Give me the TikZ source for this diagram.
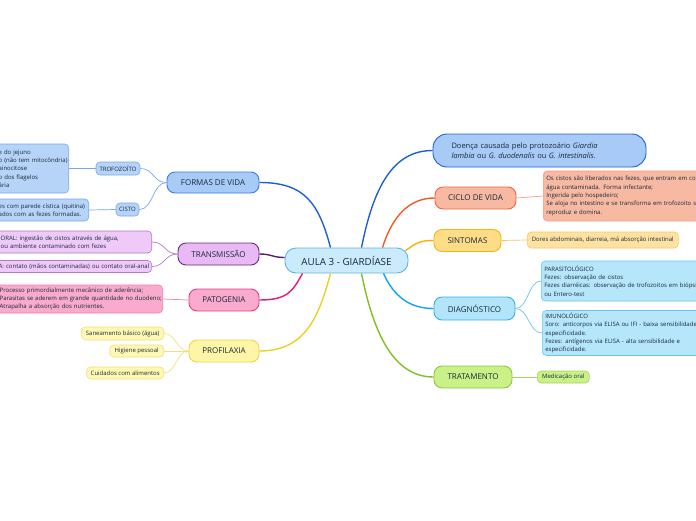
\documentclass[tikz,border=0pt]{standalone}
\usepackage{fontspec}
\setmainfont{Open Sans}
\usetikzlibrary{calc}

\definecolor{ink}{HTML}{172A3A}
\definecolor{cfill}{HTML}{C9EBFB}
\definecolor{cline}{HTML}{5FB3E3}
\definecolor{bfill}{HTML}{A8CAF6}
\definecolor{bline}{HTML}{3A7EE0}
\definecolor{bbranch}{HTML}{1E5FD6}
\definecolor{bleaf}{HTML}{B6D3F8}
\definecolor{btwig}{HTML}{78A6EC}
\definecolor{tfill}{HTML}{E8B9F5}
\definecolor{tline}{HTML}{6B2A7E}
\definecolor{tbranch}{HTML}{5B1F6B}
\definecolor{tleaf}{HTML}{EFC9F8}
\definecolor{ttwig}{HTML}{B07CC4}
\definecolor{pfill}{HTML}{F9AACD}
\definecolor{pline}{HTML}{E63C84}
\definecolor{pbranch}{HTML}{EA1672}
\definecolor{ptwig}{HTML}{EE7FAE}
\definecolor{yfill}{HTML}{FFF5A6}
\definecolor{yline}{HTML}{EAD64C}
\definecolor{ybranch}{HTML}{E4D325}
\definecolor{yleaf}{HTML}{FFF8B3}
\definecolor{ytwig}{HTML}{EFE07A}
\definecolor{ofill}{HTML}{F8B9A2}
\definecolor{oline}{HTML}{F0643F}
\definecolor{obranch}{HTML}{F25A23}
\definecolor{otwig}{HTML}{F59A7E}
\definecolor{sfill}{HTML}{FFDC87}
\definecolor{sline}{HTML}{F5B50D}
\definecolor{sbranch}{HTML}{F7B300}
\definecolor{sleaf}{HTML}{FFE2A2}
\definecolor{stwig}{HTML}{F6C65E}
\definecolor{dfill}{HTML}{B3E5FA}
\definecolor{dline}{HTML}{33AEEA}
\definecolor{dbranch}{HTML}{14A3EC}
\definecolor{dleaf}{HTML}{B6E6FA}
\definecolor{dtwig}{HTML}{67C5F2}
\definecolor{gfill}{HTML}{CAF187}
\definecolor{gline}{HTML}{8DC63F}
\definecolor{gbranch}{HTML}{80BF25}
\definecolor{gtwig}{HTML}{A6D463}

\tikzset{
  topic/.style={draw, rounded corners=8pt, line width=0.9pt, inner sep=0pt, minimum height=22pt, text=ink, font=\fontsize{8}{9}\selectfont},
  leaf/.style={draw, rounded corners=4pt, line width=0.6pt, inner xsep=3pt, inner ysep=2pt, text=ink, align=left, font=\fontsize{6}{8.3}\selectfont},
  cutleaf/.style={leaf, anchor=east, inner xsep=2pt},
  tag/.style={leaf, align=center, minimum height=13pt, inner ysep=0pt},
  branch/.style={line width=1.4pt},
  twig/.style={line width=0.7pt}
}
\newcommand{\cutl}[1]{\hspace*{30pt}\mbox{#1}}

\begin{document}
\begin{tikzpicture}[x=1pt, y=-1pt]
\useasboundingbox (0,0) rectangle (696,520);

\node[topic, fill=cfill, draw=cline, minimum width=123pt, minimum height=25pt, rounded corners=11pt, font=\fontsize{9.8}{11}\selectfont] (aula) at (346.5,260.5) {AULA 3 - GIARDÍASE};

\node[topic, fill=bfill, draw=bline, minimum width=92pt, minimum height=21pt] (formas) at (213,182.5) {FORMAS DE VIDA};
\node[topic, fill=tfill, draw=tline, minimum width=81pt] (transm) at (218.5,254) {TRANSMISSÃO};
\node[topic, fill=pfill, draw=pline, minimum width=70pt] (patog) at (224,300) {PATOGENIA};
\node[topic, fill=yfill, draw=yline, minimum width=70pt] (profil) at (224,351) {PROFILAXIA};

\node[topic, fill=bfill, draw=bbranch, minimum width=213pt, minimum height=33pt, rounded corners=14pt, text width=176pt, inner xsep=18.5pt, align=left, font=\fontsize{7.5}{10.5}\selectfont] (doenca) at (539.5,150.5) {Doença causada pelo protozoário \textit{Giardia}\\\textit{lambia} ou \textit{G. duodenalis} ou \textit{G. intestinalis}.};
\node[topic, fill=ofill, draw=oline, minimum width=81pt] (ciclo) at (475.5,198) {CICLO DE VIDA};
\node[topic, fill=sfill, draw=sline, minimum width=67pt] (sintomas) at (467.5,240.5) {SINTOMAS};
\node[topic, fill=dfill, draw=dline, minimum width=81pt, minimum height=23pt] (diagn) at (474.5,308.5) {DIAGNÓSTICO};
\node[topic, fill=gfill, draw=gline, minimum width=78pt] (tratam) at (473,377) {TRATAMENTO};

\node[tag, fill=bleaf, draw=btwig, minimum width=44pt] (trofo) at (118,168.5) {TROFOZOÍTO};
\node[tag, fill=bleaf, draw=btwig, minimum width=23pt] (cisto) at (127.5,209.5) {CISTO};
\node[cutleaf, fill=bleaf, draw=btwig, text width=98pt, minimum height=49pt] (trofotxt) at (69,168.5) {\cutl{e do jejuno}\\\cutl{o (não tem mitocôndria)}\\\cutl{ainocitose}\\\cutl{o dos flagelos}\\\cutl{ária}};
\node[cutleaf, fill=bleaf, draw=btwig, text width=118pt, minimum height=22pt] (cistotxt) at (89,210) {\cutl{es com parede cística (quitina)}\\\cutl{ados com as fezes formadas.}};

\node[cutleaf, fill=tleaf, draw=ttwig, text width=181pt, minimum height=22pt] (oral) at (152,242) {\cutl{-ORAL: ingestão de cistos através de água,}\\\cutl{\ ou ambiente contaminado com fezes}};
\node[cutleaf, fill=tleaf, draw=ttwig, text width=181pt, minimum height=12pt, inner ysep=0pt] (contato) at (152,266.5) {\cutl{A:  contato (mãos contaminadas) ou contato oral-anal}};

\node[cutleaf, fill=pfill, draw=ptwig, text width=191pt, minimum height=28pt] (aderen) at (163,299) {\cutl{Processo primordialmente mecânico de aderência;}\\\cutl{Parasitas se aderem em grande quantidade no duodeno;}\\\cutl{Atrapalha a absorção dos nutrientes.}};

\node[tag, fill=yleaf, draw=ytwig, anchor=east, minimum width=82pt] (saneam) at (164,333.5) {Saneamento básico (água)};
\node[tag, fill=yleaf, draw=ytwig, anchor=east, minimum width=54pt, minimum height=12pt] (higiene) at (164,351) {Higiene pessoal};
\node[tag, fill=yleaf, draw=ytwig, anchor=east, minimum width=77pt, minimum height=12pt] (cuidad) at (164,373) {Cuidados com alimentos};

\node[leaf, fill=ofill, draw=otwig, anchor=west, text width=185pt, minimum height=50pt] (ciclotxt) at (543,196) {Os cistos são liberados nas fezes, que entram em contato\\água contaminada. Forma infectante;\\Ingerida pelo hospedeiro;\\Se aloja no intestino e se  transforma em trofozoito se\\reproduz e domina.};
\node[tag, fill=sleaf, draw=stwig, anchor=west, minimum width=151pt, minimum height=16pt] (dores) at (527,240) {Dores abdominais, diarreia, má absorção intestinal};
\node[leaf, fill=dleaf, draw=dtwig, anchor=west, text width=185pt, minimum height=40pt] (parasit) at (541,281) {PARASITOLÓGICO\\Fezes: observação de cistos\\Fezes diarréicas: observação de trofozoitos em biópsia\\ou Entero-test};
\node[leaf, fill=dleaf, draw=dtwig, anchor=west, text width=185pt, minimum height=45pt] (imuno) at (542,333) {IMUNOLÓGICO\\Soro:  anticorpos via ELISA ou IFI - baixa sensibilidade e\\especificidade.\\Fezes:  antígenos via ELISA - alta sensibilidade e\\especificidade.};
\node[tag, fill=gfill, draw=gtwig, anchor=west, minimum width=52pt, minimum height=12pt] (medic) at (537,377) {Medicação oral};

\draw[branch, bbranch] ([xshift=-16pt]aula.north) .. controls +(-12,-45) and +(45,0) .. (formas.east);
\draw[branch, tbranch] ([yshift=3pt]aula.west) .. controls +(-12,0) and +(12,0) .. (transm.east);
\draw[branch, pbranch] ([xshift=-44pt]aula.south) .. controls +(-10,18) and +(28,0) .. (patog.east);
\draw[branch, ybranch] ([xshift=-16pt]aula.south) .. controls +(-12,45) and +(45,0) .. (profil.east);
\draw[branch, bbranch] ([xshift=15pt]aula.north) .. controls +(12,-60) and +(-40,0) .. (doenca.west);
\draw[branch, obranch] ([xshift=36pt]aula.north) .. controls +(10,-32) and +(-25,0) .. (ciclo.west);
\draw[branch, sbranch] ([xshift=-3pt,yshift=-3pt]aula.north east) .. controls +(12,-8) and +(-14,0) .. (sintomas.west);
\draw[branch, dbranch] ([xshift=37pt]aula.south) .. controls +(10,22) and +(-25,0) .. (diagn.west);
\draw[branch, gbranch] ([xshift=15pt]aula.south) .. controls +(12,60) and +(-40,0) .. (tratam.west);

\draw[twig, btwig] (formas.west) .. controls +(-14,0) and +(14,0) .. (trofo.east);
\draw[twig, btwig] (formas.west) .. controls +(-14,0) and +(14,0) .. (cisto.east);
\draw[twig, btwig] (trofo.west) -- (trofotxt.east);
\draw[twig, btwig] (cisto.west) -- (cistotxt.east);
\draw[twig, ttwig] (transm.west) .. controls +(-13,0) and +(13,0) .. (oral.east);
\draw[twig, ttwig] (transm.west) .. controls +(-13,0) and +(13,0) .. (contato.east);
\draw[twig, ptwig] (patog.west) .. controls +(-12,0) and +(12,0) .. (aderen.east);
\draw[twig, ytwig] (profil.west) .. controls +(-12,0) and +(12,0) .. (saneam.east);
\draw[twig, ytwig] (profil.west) -- (higiene.east);
\draw[twig, ytwig] (profil.west) .. controls +(-12,0) and +(12,0) .. (cuidad.east);
\draw[twig, otwig] (ciclo.east) -- (ciclotxt.west);
\draw[twig, stwig] (sintomas.east) -- (dores.west);
\draw[twig, dtwig] (diagn.east) .. controls +(13,0) and +(-13,0) .. (parasit.west);
\draw[twig, dtwig] (diagn.east) .. controls +(13,0) and +(-13,0) .. (imuno.west);
\draw[twig, gtwig] (tratam.east) -- (medic.west);
\end{tikzpicture}
\end{document}
